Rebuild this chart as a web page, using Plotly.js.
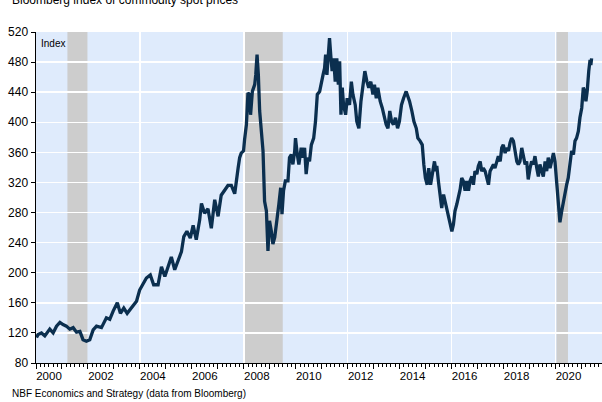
<!DOCTYPE html>
<html><head><meta charset="utf-8">
<script src="https://cdn.plot.ly/plotly-3.0.1.min.js"></script>
<style>html,body{margin:0;padding:0;background:#fff}#chart{width:602px;height:402px}</style>
</head><body><div id="chart"></div>
<script>
// Decimal year of each reading
const years = [
2000.02,2000.08,2000.21,2000.34,2000.53,2000.66,2000.79,2000.92,2001.04,2001.17,2001.30,2001.43,2001.56,2001.69,2001.81,2001.94,
2002.07,2002.20,2002.33,2002.52,2002.71,2002.84,2002.97,2003.13,2003.25,2003.38,2003.51,2003.67,2003.87,2003.99,
2004.12,2004.25,2004.40,2004.53,2004.70,2004.83,2004.96,2005.08,2005.21,2005.34,2005.47,2005.60,2005.69,2005.81,2005.94,
2006.05,2006.17,2006.30,2006.37,2006.49,2006.62,2006.75,2006.88,2007.01,2007.13,2007.26,2007.39,2007.52,2007.65,
2007.78,2007.84,2007.90,2007.99,2008.03,2008.10,2008.16,2008.22,2008.26,2008.33,2008.42,2008.46,2008.51,2008.56,2008.61,
2008.67,2008.74,2008.80,2008.87,2008.93,2008.99,2009.06,2009.12,2009.19,2009.28,2009.35,2009.42,2009.47,2009.53,2009.60,
2009.70,2009.76,2009.83,2009.89,2009.96,2009.99,2010.06,2010.12,2010.21,2010.28,2010.34,2010.40,2010.47,2010.53,2010.60,
2010.69,2010.76,2010.83,2010.92,2010.98,2011.05,2011.11,2011.15,2011.20,2011.25,2011.30,2011.35,2011.40,2011.46,2011.52,
2011.58,2011.64,2011.69,2011.74,2011.79,2011.84,2011.92,2011.98,2012.07,2012.14,2012.20,2012.29,2012.35,2012.43,2012.51,
2012.58,2012.66,2012.74,2012.81,2012.89,2012.97,2013.03,2013.10,2013.16,2013.25,2013.33,2013.39,2013.48,2013.55,2013.62,
2013.69,2013.76,2013.84,2013.92,2013.99,2014.07,2014.15,2014.25,2014.32,2014.38,2014.47,2014.55,2014.64,2014.70,2014.79,
2014.87,2014.93,2014.99,2015.06,2015.12,2015.19,2015.25,2015.34,2015.40,2015.43,2015.49,2015.56,2015.62,2015.69,2015.75,
2015.81,2015.88,2015.94,2016.01,2016.07,2016.13,2016.20,2016.26,2016.33,2016.39,2016.45,2016.52,2016.58,2016.65,2016.71,
2016.78,2016.84,2016.90,2016.97,2017.03,2017.10,2017.16,2017.22,2017.29,2017.35,2017.42,2017.48,2017.545,2017.61,2017.67,
2017.74,2017.80,2017.87,2017.93,2017.99,2018.06,2018.12,2018.19,2018.25,2018.31,2018.38,2018.44,2018.51,2018.57,2018.63,
2018.70,2018.76,2018.83,2018.89,2018.95,2019.02,2019.08,2019.15,2019.21,2019.28,2019.34,2019.40,2019.47,2019.53,2019.60,
2019.66,2019.72,2019.79,2019.85,2019.92,2019.98,2020.04,2020.11,2020.17,2020.24,2020.30,2020.37,2020.43,2020.49,2020.56,
2020.62,2020.69,2020.75,2020.81,2020.88,2020.94,2021.01,2021.07,2021.13,2021.17,2021.22,2021.28,2021.33,2021.36,2021.39
];
const index = [
114,118,120,116,125,120,129,134,131,129,125,127,121,122,111,109,
111,124,129,127,140,138,149,160,146,153,146,153,162,177,
184,193,197,184,184,208,195,206,221,204,217,228,248,255,246,
263,244,270,292,279,285,259,297,275,303,310,316,316,305,
339,353,359,362,377,397,439,437,410,441,450,463,490,463,415,
392,362,295,282,229,269,255,238,247,269,291,313,278,309,322,
322,353,357,344,362,379,357,344,366,353,366,331,353,348,370,
379,401,437,441,454,463,472,490,463,494,512,488,468,485,454,
485,450,481,410,446,423,410,432,423,454,437,423,401,392,428,
450,468,454,446,454,437,450,432,446,428,419,410,397,392,415,
401,397,406,392,401,423,432,441,434,428,415,401,392,379,375,
370,344,326,317,339,317,331,348,335,342,322,304,286,304,295,
282,273,267,255,264,282,291,300,311,326,322,309,322,309,322,
328,317,335,331,342,348,335,339,335,326,317,335,339,344,339,
348,355,348,366,370,359,366,362,373,379,375,362,348,344,348,
366,357,344,348,324,339,348,344,355,339,328,344,335,328,348,
335,353,339,348,359,348,326,300,267,282,295,304,317,326,348,
362,357,375,379,388,406,419,446,441,428,441,468,483,476,485
];
// Recession periods (decimal years)
const recStart = [2001.21, 2008.0, 2020.04];
const recEnd   = [2001.98, 2009.5, 2020.48];
// Tick labels
const labelYears = [2000,2002,2004,2006,2008,2010,2012,2014,2016,2018,2020];
const yTicks = [80,120,160,200,240,280,320,360,400,440,480,520];

const xRange = [2000, 2021.79];
const FONT = 'Liberation Sans, Arial, Helvetica, sans-serif';

const traces = [
  {x: years, y: index, type: 'scatter', mode: 'lines', xaxis: 'x', yaxis: 'y',
   line: {color: '#0b2f4f', width: 3.3}, hoverinfo: 'skip', showlegend: false},
  {x: years, y: index, type: 'scatter', mode: 'lines', xaxis: 'x2', yaxis: 'y',
   line: {width: 0}, opacity: 0, hoverinfo: 'skip', showlegend: false},
  {x: years, y: index, type: 'scatter', mode: 'lines', xaxis: 'x3', yaxis: 'y',
   line: {width: 0}, opacity: 0, hoverinfo: 'skip', showlegend: false}
];

const shapes = recStart.map((s, i) => ({
  type: 'rect', xref: 'x', yref: 'paper', x0: s, x1: recEnd[i], y0: 0, y1: 1,
  fillcolor: '#cdcdcd', line: {width: 0}, layer: 'between'
}));

const layout = {
  width: 602, height: 402,
  margin: {l: 36, r: 0, t: 32, b: 39},
  paper_bgcolor: '#ffffff', plot_bgcolor: '#dfebfc',
  font: {family: FONT, color: '#000', size: 12},
  showlegend: false,
  xaxis: {
    range: xRange, tickmode: 'array',
    tickvals: labelYears.map(y => y + 0.5), ticktext: labelYears.map(String),
    ticks: '', showgrid: false, zeroline: false, ticklabelstandoff: 2,
    showline: true, linecolor: '#000', linewidth: 1,
    tickfont: {family: FONT, size: 11.5, color: '#000'}, fixedrange: true
  },
  xaxis2: {
    overlaying: 'x', anchor: 'y', side: 'bottom', range: xRange,
    tick0: 2000, dtick: 1, ticks: 'outside', ticklen: 5, tickwidth: 1, tickcolor: '#000',
    showticklabels: false, showgrid: false, zeroline: false, showline: false,
    minor: {tick0: 2000, dtick: 1/6, ticks: 'outside', ticklen: 3, tickwidth: 1, tickcolor: '#000', showgrid: false}
  },
  xaxis3: {
    overlaying: 'x', anchor: 'y', side: 'bottom', range: xRange,
    tick0: 2000, dtick: 4, ticks: '', showticklabels: false,
    showgrid: true, gridcolor: '#ffffff', gridwidth: 1.5, zeroline: false, showline: false
  },
  yaxis: {
    range: [80, 520], tickmode: 'array', tickvals: yTicks,
    ticks: 'outside', ticklen: 4, tickwidth: 1, tickcolor: '#000',
    showline: true, linecolor: '#000', linewidth: 1.5,
    showgrid: true, gridcolor: '#ffffff', gridwidth: 1.5, zeroline: false,
    tickfont: {family: FONT, size: 12, color: '#000'}
  },
  shapes: shapes,
  annotations: [
    {text: 'Bloomberg index of commodity spot prices', xref: 'paper', yref: 'paper',
     x: 0, y: 1, xanchor: 'left', yanchor: 'bottom', xshift: -26, yshift: 23,
     showarrow: false, font: {family: FONT, size: 12, color: '#000'}},
    {text: 'Index', xref: 'paper', yref: 'paper', x: 0, y: 1, xanchor: 'left', yanchor: 'top',
     xshift: 3, yshift: -4, showarrow: false, font: {family: FONT, size: 10, color: '#000'}},
    {text: 'NBF Economics and Strategy (data from Bloomberg)', xref: 'paper', yref: 'paper',
     x: 0, y: 0, xanchor: 'left', yanchor: 'top', xshift: -26, yshift: -23,
     showarrow: false, font: {family: FONT, size: 10, color: '#000'}}
  ]
};

Plotly.newPlot('chart', traces, layout, {staticPlot: true, displayModeBar: false});
</script>
</body></html>
